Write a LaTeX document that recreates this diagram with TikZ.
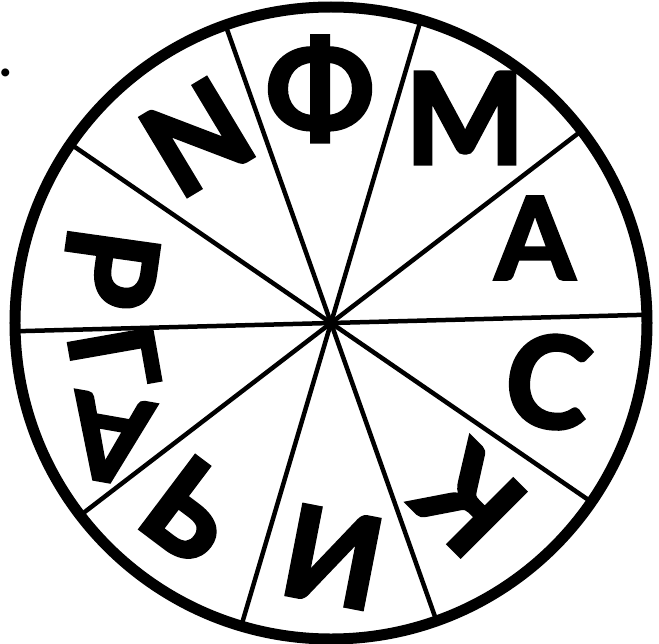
\documentclass[tikz,border=0pt]{standalone}
\usepackage{fontspec}
\setmainfont{Lato}
\newfontfamily\wheelfont{Lato}[BoldFeatures={FakeBold=3}]

\begin{document}
\begin{tikzpicture}[
  x=0.02cm, y=0.02cm,
  letter/.style={
    inner sep=0pt, text=black,
    font=\wheelfont\fontsize{72}{72}\selectfont\bfseries
  },
  rim/.style={draw, line width=0.22cm},
  spoke/.style={draw, line width=0.09cm},
  dotmark/.style={inner sep=0pt, font=\fontsize{30}{30}\selectfont\bfseries}
]
\useasboundingbox (-331,-320) rectangle (328,323);

% wheel and spokes
\coordinate (o) at (0,0);
\coordinate (s1) at (1.5:314);
\coordinate (s2) at (37.5:314);
\coordinate (s3) at (73.5:314);
\coordinate (s4) at (109.5:314);
\coordinate (s5) at (145.5:314);
\coordinate (s6) at (181.5:314);
\coordinate (s7) at (217.5:314);
\coordinate (s8) at (253.5:314);
\coordinate (s9) at (289.5:314);
\coordinate (s10) at (325.5:314);

\draw[spoke] (o) -- (s1);
\draw[spoke] (o) -- (s2);
\draw[spoke] (o) -- (s3);
\draw[spoke] (o) -- (s4);
\draw[spoke] (o) -- (s5);
\draw[spoke] (o) -- (s6);
\draw[spoke] (o) -- (s7);
\draw[spoke] (o) -- (s8);
\draw[spoke] (o) -- (s9);
\draw[spoke] (o) -- (s10);
\draw[rim] (o) circle[radius=316];

% letters
\node[letter] (phi) at (-11,234) {Φ};
\node[letter] (em) at (134,205) {М};
\node[letter, scale=0.9] (a1) at (204,85) {А};
\node[letter, rotate=-8] (es) at (217,-58) {С};
\node[letter, rotate=135] (ka) at (138,-177) {К};
\node[letter, rotate=-11] (ii) at (2,-234) {И};
\node[letter, rotate=-37] (soft) at (-140,-187) {Ь};
\node[letter, rotate=170, scale=0.92] (a2) at (-222,-116) {А};
\node[letter, rotate=-80, scale=0.92] (ge) at (-217,-35) {Г};
\node[letter, rotate=-98] (er) at (-221,55) {Р};
\node[letter, rotate=31] (en) at (-134,186) {N};

\node[dotmark] (dot) at (-325,250) {.};

\end{tikzpicture}
\end{document}
